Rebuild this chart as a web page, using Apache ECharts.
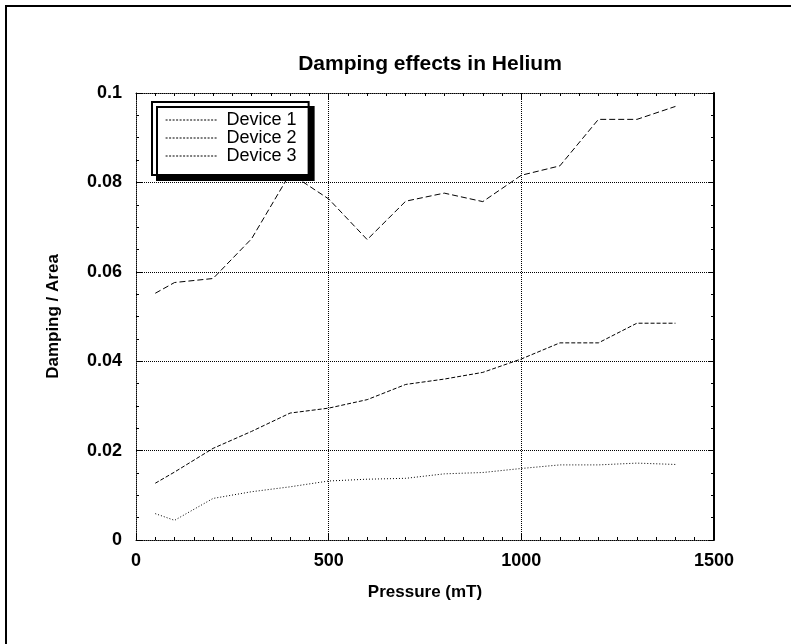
<!DOCTYPE html>
<html>
<head>
<meta charset="utf-8">
<script src="https://cdn.jsdelivr.net/npm/echarts@6/dist/echarts.min.js"></script>
<style>
  html, body { margin: 0; padding: 0; background: #fff; }
  #chart { width: 791px; height: 644px; }
</style>
</head>
<body>
<div id="chart"></div>
<script>
// pressure (mT)
const pressure = [50, 100, 200, 300, 400, 500, 600, 700, 800, 900, 1000, 1100, 1200, 1300, 1400];
// damping / area
const device1 = [0.0059, 0.0044, 0.0093, 0.0108, 0.0119, 0.0132, 0.0136, 0.0138, 0.0148, 0.0151, 0.0160, 0.0168, 0.0168, 0.0172, 0.0169];
const device2 = [0.0127, 0.0152, 0.0205, 0.0243, 0.0284, 0.0295, 0.0314, 0.0348, 0.0360, 0.0375, 0.0405, 0.0441, 0.0441, 0.0485, 0.0485];
const device3 = [0.0552, 0.0576, 0.0585, 0.0674, 0.0820, 0.0763, 0.0672, 0.0758, 0.0776, 0.0757, 0.0816, 0.0837, 0.0941, 0.0941, 0.0970];
const seriesNames = ['Device 1', 'Device 2', 'Device 3'];

const font = 'Liberation Sans, Arial, Helvetica, sans-serif';

const toPairs = (ys) => pressure.map((x, i) => [x, ys[i]]);

function mkSeries(name, ys, type) {
  return {
    name: name,
    type: 'line',
    symbol: 'none',
    data: toPairs(ys),
    lineStyle: { color: '#000', width: 1, type: type },
    itemStyle: { color: '#000' },
    animation: false
  };
}

const chart = echarts.init(document.getElementById('chart'));

const tickStyle = { show: true, inside: true, length: 6, lineStyle: { color: '#000', width: 1 } };
const minorStyle = { show: true, length: 3, lineStyle: { color: '#000', width: 1 } };
const dottedLine = { color: '#000', width: 1, type: 'dotted' };

let option = {
  backgroundColor: '#fff',
  animation: false,
  title: {
    text: 'Damping effects in Helium',
    left: 425,
    textAlign: 'center',
    top: 49,
    textStyle: { fontFamily: font, fontSize: 21, fontWeight: 'bold', color: '#000' }
  },
  legend: {
    orient: 'vertical',
    left: 152,
    top: 102,
    padding: [9, 12, 10, 13],
    itemGap: 0,
    itemWidth: 52,
    itemHeight: 14,
    backgroundColor: '#fff',
    borderColor: '#000',
    borderWidth: 2,
    shadowColor: '#000',
    shadowBlur: 0,
    shadowOffsetX: 5,
    shadowOffsetY: 5,
    itemStyle: { color: 'rgba(0,0,0,0)', borderWidth: 0 },
    lineStyle: { color: '#000', width: 1.2, type: [2, 1.5] },
    textStyle: { fontFamily: font, fontSize: 18, color: '#000', lineHeight: 18, padding: [0, 0, 0, 4] },
    data: seriesNames
  },
  grid: { left: 136, right: 77, top: 93, bottom: 104 },
  xAxis: [{
    type: 'value',
    min: 0,
    max: 1500,
    interval: 500,
    name: 'Pressure (mT)',
    nameLocation: 'middle',
    nameGap: 44,
    nameTextStyle: { fontFamily: font, fontSize: 17, fontWeight: 'bold', color: '#000' },
    axisLine: { show: true, onZero: false, lineStyle: dottedLine },
    axisTick: tickStyle,
    minorTick: Object.assign({ splitNumber: 10 }, minorStyle),
    axisLabel: {
      margin: 12, fontFamily: font, fontSize: 18, fontWeight: 'bold', color: '#000',
      formatter: (v) => String(v)
    },
    splitLine: { show: true, lineStyle: dottedLine }
  }, {
    type: 'value',
    position: 'top',
    min: 0,
    max: 1500,
    interval: 500,
    axisLine: { show: true, onZero: false, lineStyle: dottedLine },
    axisTick: tickStyle,
    minorTick: Object.assign({ splitNumber: 10 }, minorStyle),
    axisLabel: { show: false },
    splitLine: { show: false }
  }],
  yAxis: [{
    type: 'value',
    min: 0,
    max: 0.1,
    interval: 0.02,
    name: 'Damping / Area',
    nameLocation: 'middle',
    nameGap: 74,
    nameTextStyle: { fontFamily: font, fontSize: 17, fontWeight: 'bold', color: '#000' },
    axisLine: { show: true, onZero: false, lineStyle: dottedLine },
    axisTick: tickStyle,
    minorTick: Object.assign({ splitNumber: 4 }, minorStyle),
    axisLabel: {
      margin: 14, fontFamily: font, fontSize: 18, fontWeight: 'bold', color: '#000',
      formatter: (v) => String(+v.toFixed(2))
    },
    splitLine: { show: true, lineStyle: dottedLine }
  }, {
    type: 'value',
    position: 'right',
    min: 0,
    max: 0.1,
    interval: 0.02,
    axisLine: { show: true, onZero: false, lineStyle: { color: '#000', width: 2 } },
    axisTick: tickStyle,
    minorTick: Object.assign({ splitNumber: 4 }, minorStyle),
    axisLabel: { show: false },
    splitLine: { show: false }
  }],
  graphic: [{
    type: 'rect',
    shape: { x: 6, y: 6, width: 820, height: 700 },
    style: { fill: 'none', stroke: '#000', lineWidth: 2 },
    silent: true
  }],
  series: [
    mkSeries(seriesNames[0], device1, [1, 2]),
    mkSeries(seriesNames[1], device2, [4, 2]),
    mkSeries(seriesNames[2], device3, [6, 3])
  ]
};

chart.setOption(option);
</script>
</body>
</html>
